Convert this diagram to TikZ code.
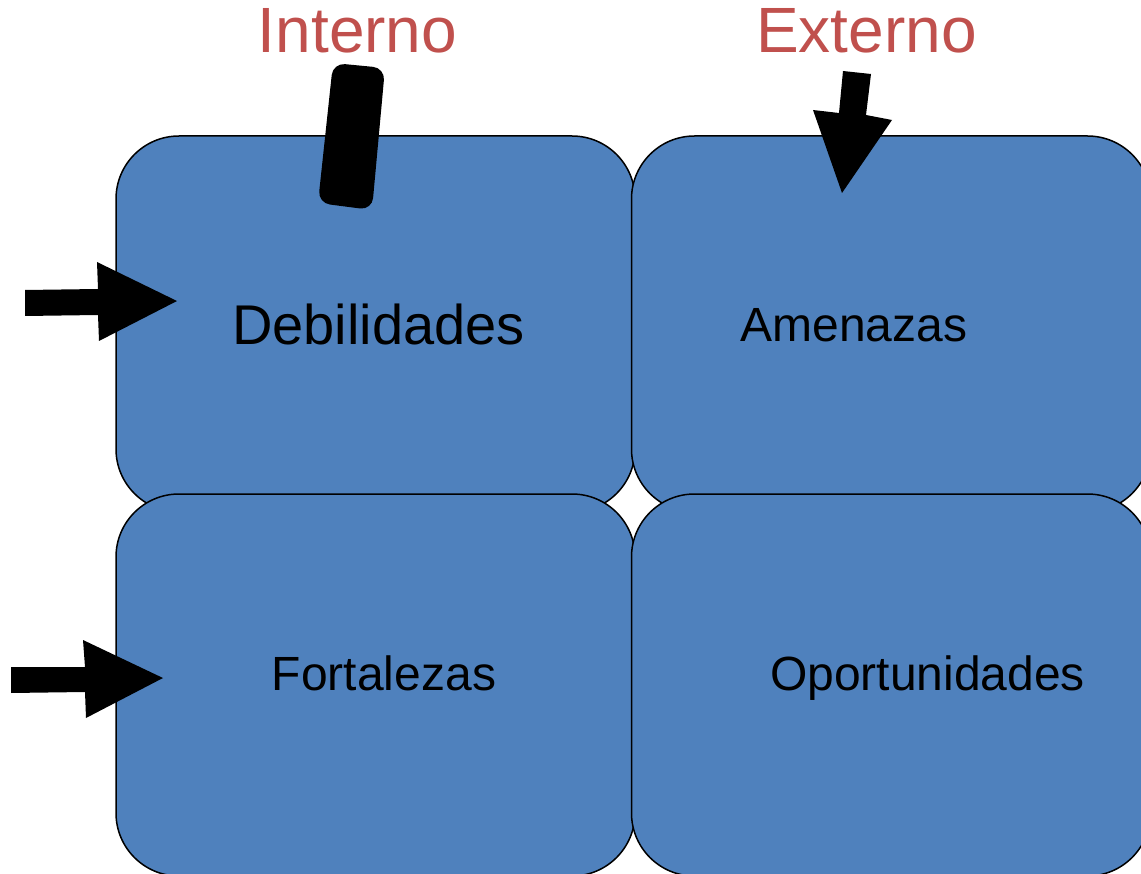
\documentclass[tikz,border=0pt]{standalone}
\usepackage{fontspec}
\setmainfont{Liberation Sans}
\definecolor{boxblue}{HTML}{4F81BD}
\definecolor{labelred}{HTML}{C0504D}
\begin{document}
\begin{tikzpicture}[x=1pt,y=-1pt,
  quad/.style={draw=black, line width=1.5pt, fill=boxblue, rounded corners=63pt,
    inner sep=0pt, minimum width=519pt},
  boxtext/.style={anchor=base, inner sep=0pt, text=black},
  headtext/.style={anchor=base, inner sep=0pt, text=labelred, font=\fontsize{64}{70}\selectfont},
  blockarrow/.style={fill=black}]
\useasboundingbox (0,0) rectangle (1141,874);
% quadrants
\node[quad, minimum height=376pt] (deb) at (375.5,324) {};
\node[quad, minimum height=376pt] (ame) at (891,324) {};
\node[quad, minimum height=382pt] (fort) at (375.5,685) {};
\node[quad, minimum height=382pt] (opo) at (891,685) {};
% black bar under "Interno"
\fill[blockarrow, rounded corners=12pt] (359,65.5) -- (385,68) -- (372,210) -- (318,203) -- (333,63) -- cycle;
% down arrow under "Externo"
\fill[blockarrow] (843,71) -- (871,74) -- (866,115) -- (892,120) -- (842,193) -- (813,110) -- (839,113) -- cycle;
% left arrows
\fill[blockarrow] (25,290) -- (98,289) -- (97,262) -- (177,301) -- (99,341) -- (98,315) -- (25,316) -- cycle;
\fill[blockarrow] (11,667) -- (85,667) -- (83,640) -- (163,678) -- (86,718) -- (85,692) -- (11,693) -- cycle;
% headings
\node[headtext] (interno) at (357.5,53) {Interno};
\node[headtext] (externo) at (866.5,53) {Externo};
% labels
\node[boxtext, font=\fontsize{56}{60}\selectfont] (tdeb) at (378.5,345) {Debilidades};
\node[boxtext, font=\fontsize{48}{54}\selectfont] (tame) at (854,342) {Amenazas};
\node[boxtext, font=\fontsize{48}{54}\selectfont] (tfort) at (384,690) {Fortalezas};
\node[boxtext, font=\fontsize{48}{54}\selectfont] (topo) at (927.5,690) {Oportunidades};
\end{tikzpicture}
\end{document}
